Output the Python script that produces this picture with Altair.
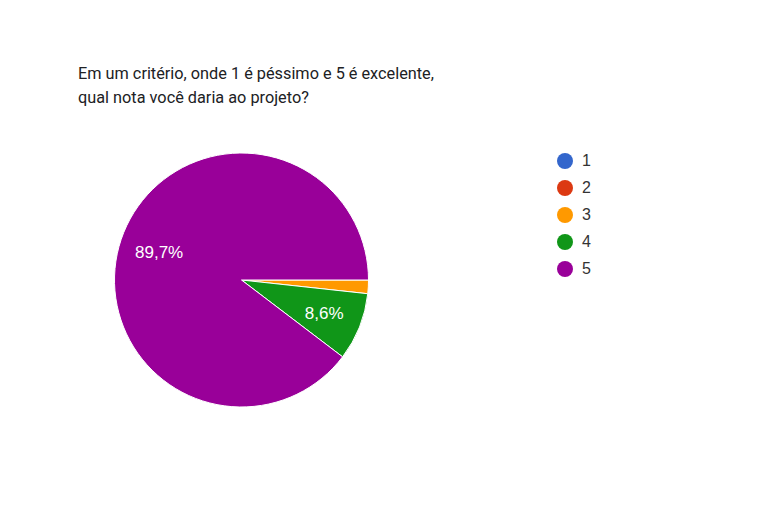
import math
import altair as alt
import pandas as pd

categories = ["1", "2", "3", "4", "5"]
counts = [0, 0, 1, 5, 52]
colors = ["#3366cc", "#dc3912", "#ff9900", "#109618", "#990099"]
title_lines = ["Em um critério, onde 1 é péssimo e 5 é excelente,",
               "qual nota você daria ao projeto?"]

df = pd.DataFrame({"nota": categories, "count": counts, "ordem": list(range(len(categories)))})

cx, cy, r = 233.5, 272, 127

theta = alt.Theta("count:Q", stack=True,
                  scale=alt.Scale(range=[math.pi / 2, math.pi / 2 + 2 * math.pi]))

pie = alt.Chart(df).mark_arc(outerRadius=r, stroke="white", strokeWidth=1).encode(
    theta=theta,
    order=alt.Order("ordem:Q"),
    color=alt.Color("nota:N", scale=alt.Scale(domain=categories, range=colors),
                    legend=alt.Legend(title=None, orient="none", legendX=549, legendY=145,
                                      symbolType="circle", symbolSize=256, symbolStrokeWidth=0,
                                      labelFontSize=16, labelFont="Liberation Sans",
                                      labelColor="#333333", rowPadding=11, labelOffset=9)),
    x=alt.value(cx), y=alt.value(cy),
)

labels = alt.Chart(df).transform_joinaggregate(total="sum(count)").transform_calculate(
    label="datum.count / datum.total >= 0.05 ? replace(format(datum.count / datum.total, '.1%'), '.', ',') : ''"
).mark_text(radius=88, font="Liberation Sans", fontSize=17, color="white", dx=1, dy=1).encode(
    theta=theta,
    order=alt.Order("ordem:Q"),
    text="label:N",
    x=alt.value(cx), y=alt.value(cy),
)

title = alt.Chart(pd.DataFrame({"t": [0]})).mark_text(
    text=title_lines, align="left", baseline="alphabetic", lineHeight=24,
    font="Roboto", fontSize=16.3, color="#202124"
).encode(x=alt.value(70), y=alt.value(70.5))

chart = alt.layer(pie, labels, title).properties(
    width=752, height=496, autosize=alt.AutoSizeParams(type="none"), padding=0
).configure_view(stroke=None)

chart.save("out.html", embed_options={"renderer": "svg", "actions": False})
